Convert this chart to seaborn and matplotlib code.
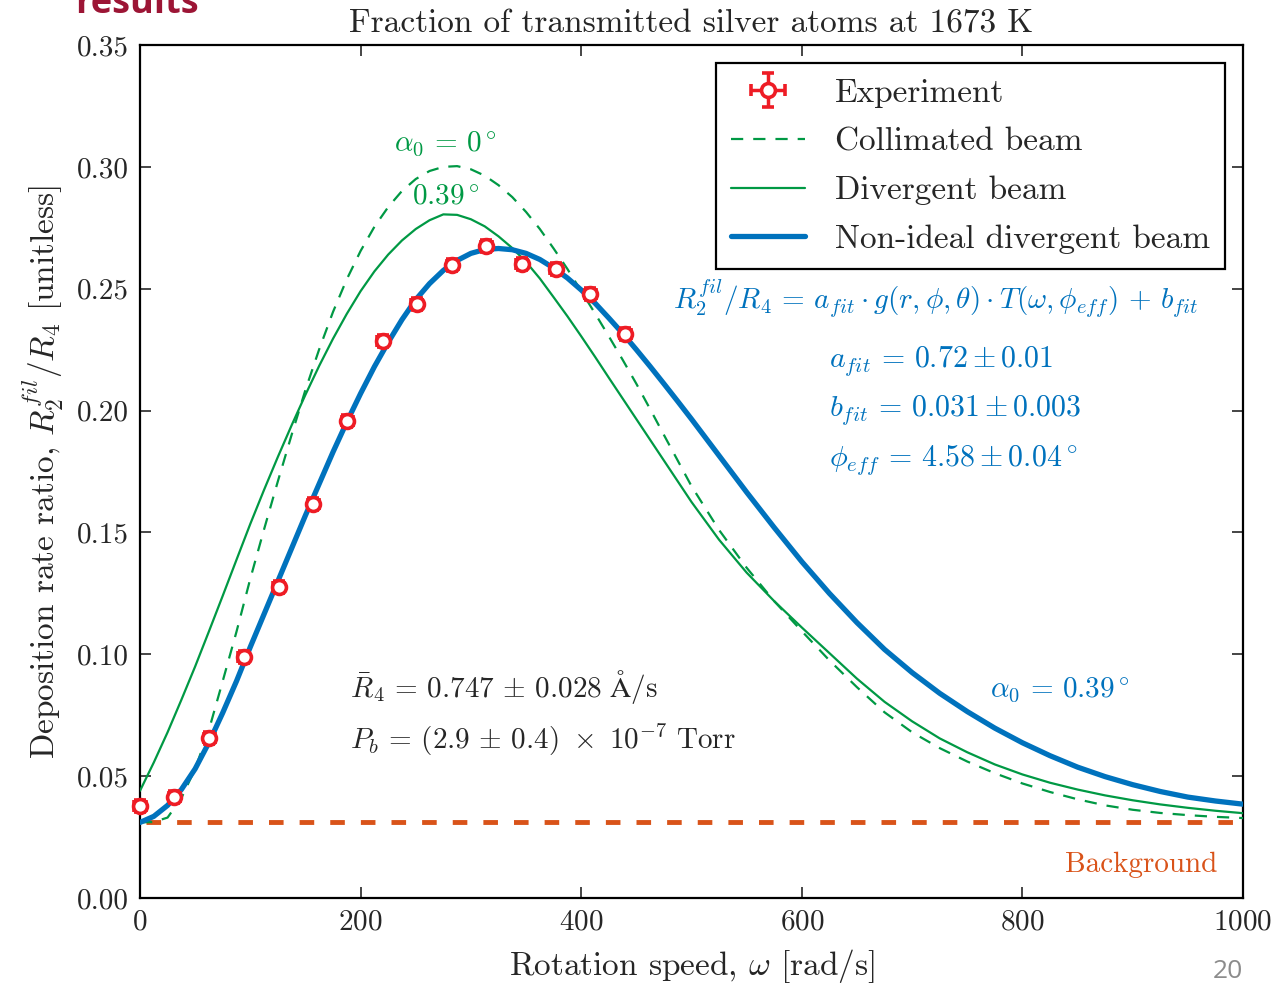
import matplotlib
matplotlib.use("Agg")
import matplotlib.pyplot as plt
import numpy as np
import seaborn as sns

# rotation speed grid for the model curves [rad/s] (finer where curves bend)
omega = [0, 12.5, 25, 37.5, 50, 62.5, 75, 87.5, 100, 112.5, 125, 137.5, 150, 162.5,
         175, 187.5, 200, 212.5, 225, 237.5, 250, 262.5, 275, 287.5, 300, 312.5,
         325, 337.5, 350, 362.5, 375, 387.5, 400, 412.5, 425, 437.5, 450, 462.5,
         475, 487.5, 500, 525, 550, 575, 600, 625, 650, 675, 700, 725, 750, 775,
         800, 825, 850, 875, 900, 925, 950, 975, 1000]

collimated = [0.031, 0.0312, 0.033, 0.041, 0.053, 0.069, 0.089, 0.1093, 0.131,
              0.1513, 0.171, 0.1901, 0.2085, 0.2252, 0.2405, 0.2539, 0.2655, 0.2754,
              0.2835, 0.2901, 0.295, 0.2983, 0.300, 0.3003, 0.299, 0.2964, 0.2925,
              0.2876, 0.2815, 0.2745, 0.2665, 0.2581, 0.249, 0.2399, 0.2305, 0.2209,
              0.211, 0.2006, 0.190, 0.1795, 0.169, 0.151, 0.1355, 0.1218, 0.1095,
              0.0975, 0.0865, 0.0762, 0.068, 0.0615, 0.056, 0.0512, 0.047, 0.0435,
              0.0405, 0.038, 0.0362, 0.0349, 0.034, 0.0333, 0.0328]

divergent = [0.044, 0.0556, 0.068, 0.0813, 0.095, 0.1094, 0.124, 0.1388, 0.1535,
             0.1675, 0.181, 0.194, 0.2065, 0.2184, 0.2295, 0.2397, 0.249, 0.2571,
             0.264, 0.2698, 0.2745, 0.2781, 0.2805, 0.2803, 0.2785, 0.2756, 0.2715,
             0.2667, 0.261, 0.2542, 0.2465, 0.2387, 0.2305, 0.2221, 0.2135, 0.205,
             0.1965, 0.188, 0.1795, 0.171, 0.1625, 0.147, 0.1335, 0.1218, 0.111,
             0.1005, 0.090, 0.0805, 0.0725, 0.0655, 0.0598, 0.0548, 0.0507, 0.0473,
             0.0445, 0.0421, 0.0401, 0.0384, 0.037, 0.0358, 0.0348]

nonideal = [0.031, 0.0335, 0.038, 0.0445, 0.053, 0.0638, 0.076, 0.089, 0.103,
            0.1165, 0.130, 0.1435, 0.157, 0.170, 0.183, 0.1953, 0.207, 0.218,
            0.228, 0.2373, 0.2455, 0.2521, 0.2575, 0.2616, 0.2645, 0.2661, 0.2665,
            0.266, 0.2645, 0.262, 0.2585, 0.2544, 0.2495, 0.2441, 0.238, 0.2317,
            0.225, 0.2181, 0.211, 0.2038, 0.1965, 0.1815, 0.1665, 0.152, 0.138,
            0.125, 0.113, 0.102, 0.0925, 0.084, 0.0765, 0.0697, 0.0637, 0.0584,
            0.0537, 0.0498, 0.0465, 0.0437, 0.0414, 0.0398, 0.0385]

# experiment
exp_omega = [0, 31, 63, 94, 126, 157, 188, 220, 251, 283, 314, 346, 377, 408, 440]
exp_ratio = [0.0378, 0.0414, 0.0657, 0.0989, 0.1276, 0.1617, 0.1957, 0.2286,
             0.2437, 0.2597, 0.2675, 0.2602, 0.2581, 0.2478, 0.2314]
exp_yerr = 0.0025
exp_xerr = 5

background = 0.031

GREEN = "#009944"
BLUE = "#0072BD"
ORANGE = "#D95319"
RED = "#EE1C25"

sns.set_style("ticks")
plt.rcParams["font.family"] = ["cmr10", "DejaVu Serif"]
plt.rcParams["mathtext.fontset"] = "cm"
plt.rcParams["axes.formatter.use_mathtext"] = True
plt.rcParams["axes.unicode_minus"] = False

fig = plt.figure(figsize=(12.85, 9.85), dpi=100, facecolor="white")
ax = fig.add_axes([140 / 1285, 1 - 898 / 985, 1103 / 1285, 853 / 985])

ax.errorbar(exp_omega, exp_ratio, yerr=exp_yerr, xerr=exp_xerr, fmt="o",
            color=RED, mfc="white", mec=RED, mew=2.6, ms=10, elinewidth=2.5,
            capsize=4, capthick=2.5, label="Experiment", zorder=6, clip_on=False)
sns.lineplot(x=omega, y=collimated, ax=ax, color=GREEN, lw=1.6,
             label="Collimated beam", zorder=3)
ax.lines[-1].set_dashes((5.5, 4.5))
sns.lineplot(x=omega, y=divergent, ax=ax, color=GREEN, lw=1.6,
             label="Divergent beam", zorder=3)
sns.lineplot(x=omega, y=nonideal, ax=ax, color=BLUE, lw=3.8,
             label="Non-ideal divergent beam", zorder=4)
bg = ax.axhline(background, xmin=0.005, color=ORANGE, lw=3.5, zorder=2)
bg.set_dashes((3.0, 3.3))

ax.set_xlim(0, 1000)
ax.set_ylim(0, 0.35)
ax.set_xticks(np.arange(0, 1001, 200))
ax.set_yticks(np.arange(0, 0.351, 0.05))
ax.set_yticklabels([f"{v:.2f}" for v in np.arange(0, 0.351, 0.05)])
ax.tick_params(direction="in", length=8, width=1.2, top=True, right=True,
               labelsize=21, pad=8)
for s in ax.spines.values():
    s.set_linewidth(1.6)
    s.set_color("black")

ax.set_title("Fraction of transmitted silver atoms at 1673 K", fontsize=24, pad=9)
ax.set_xlabel(r"Rotation speed, $\omega$ [rad/s]", fontsize=24, labelpad=8)
ax.set_ylabel(r"Deposition rate ratio, $R_2^{fil}/R_4$ [unitless]", fontsize=24,
              labelpad=8)

ax.text(277, 0.3095, r"$\alpha_0\, =\, 0^\circ$", color=GREEN, fontsize=21,
        ha="center", va="center")
ax.text(277, 0.2875, r"$0.39^\circ$", color=GREEN, fontsize=21, ha="center", va="center")
ax.text(834, 0.0855, r"$\alpha_0\, =\, 0.39^\circ$", color=BLUE, fontsize=21,
        ha="center", va="center")
ax.text(908, 0.0135, "Background", color=ORANGE, fontsize=21, ha="center", va="center")

ax.text(721, 0.246,
        r"$R_2^{fil}/R_4\, =\, a_{fit}\cdot g(r,\phi,\theta)\cdot T(\omega,\phi_{eff})\, +\, b_{fit}$",
        color=BLUE, fontsize=21, ha="center", va="center")
ax.text(625, 0.2205, r"$a_{fit}\, =\, 0.72 \pm 0.01$", color=BLUE, fontsize=21.5, va="center")
ax.text(625, 0.2003, r"$b_{fit}\, =\, 0.031 \pm 0.003$", color=BLUE, fontsize=21.5, va="center")
ax.text(625, 0.1800, r"$\phi_{eff}\, =\, 4.58 \pm 0.04^\circ$", color=BLUE, fontsize=21.5,
        va="center")

ax.text(190, 0.0866, r"$\bar{R}_4\, =\, 0.747\,\pm\,0.028\ \mathrm{Å/s}$",
        fontsize=21, va="center")
ax.text(190, 0.0648, r"$P_b\, =\, (2.9\,\pm\,0.4)\ \times\ 10^{-7}\ \mathrm{Torr}$",
        fontsize=21, va="center")

handles, labels = ax.get_legend_handles_labels()
order = [labels.index(l) for l in ["Experiment", "Collimated beam", "Divergent beam",
                                   "Non-ideal divergent beam"]]
leg = ax.legend([handles[i] for i in order], [labels[i] for i in order],
                loc="upper right", fontsize=24, frameon=True, fancybox=False,
                edgecolor="black", borderaxespad=0.55, handlelength=2.2,
                labelspacing=0.58, handletextpad=0.9, borderpad=0.45)
leg.get_frame().set_linewidth(1.6)
leg.get_frame().set_alpha(1)

# slide decorations
fig.text(75 / 1285, 1 - 13 / 985, "results", fontsize=26, fontweight="bold",
         color="#9C1535", family=["Open Sans", "DejaVu Sans"], va="baseline")
fig.text(1243 / 1285, 1 - 978 / 985, "20", fontsize=19, color="#8C8C8C",
         family=["Open Sans", "DejaVu Sans"], ha="right", va="baseline")

fig.savefig("out.png", dpi=100, facecolor="white")
